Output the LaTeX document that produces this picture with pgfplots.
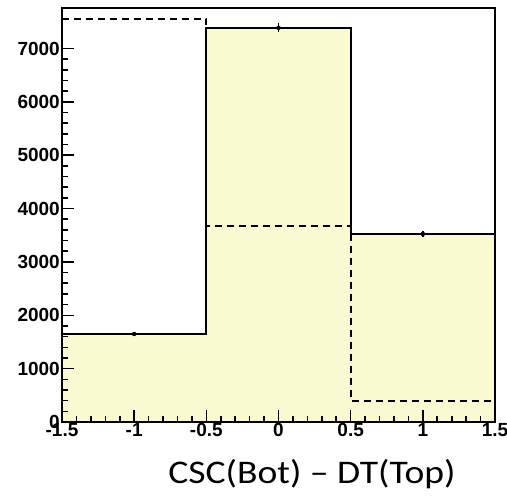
\documentclass[border=0pt]{standalone}
\usepackage{pgfplots}
\pgfplotsset{compat=1.18}
\usepackage{fontspec}
\setmainfont{Liberation Sans}
\newfontfamily\calibri{Carlito}
\definecolor{histfill}{RGB}{250,250,210}
\begin{document}
\begin{tikzpicture}
\begin{axis}[
  name=ax, scale only axis, width=433pt, height=414pt,
  xmin=-1.5, xmax=1.5, ymin=0, ymax=7760,
  axis on top, tick pos=left, tick align=inside,
  xtick={-1.5,-1,-0.5,0,0.5,1,1.5},
  xticklabels={-1.5,-1,-0.5,0,0.5,1,1.5},
  ytick={0,1000,...,7000},
  yticklabels={0,1000,2000,3000,4000,5000,6000,7000},
  minor x tick num=4, minor y tick num=4,
  major tick length=12pt, minor tick length=6pt,
  every tick/.style={black, line width=1.6pt},
  axis line style={line width=2pt},
  tick label style={font=\fontsize{19}{19}\selectfont\bfseries},
  yticklabel style={inner sep=2pt},
  xticklabel style={inner sep=1pt},
]
% filled histogram
\addplot[const plot, fill=histfill, draw=none] coordinates {
  (-1.5,1650) (-0.5,7390) (0.5,3525) (1.5,3525)} \closedcycle;
\addplot[const plot, black, line width=2pt] coordinates {
  (-1.5,1650) (-0.5,7390) (0.5,3525) (1.5,3525)};
% errors
\addplot[black, only marks, mark=none,
  error bars/.cd, y dir=both, y explicit, error mark=none,
  error bar style={line width=1.6pt}] coordinates {
  (-1,1650) +- (0,41) (0,7390) +- (0,86) (1,3525) +- (0,59)};
% dashed histogram
\addplot[const plot, black, line width=2pt, dash pattern=on 7pt off 5pt] coordinates {
  (-1.5,7560) (-0.5,3675) (0.5,400) (1.5,400)};
\end{axis}
\node[anchor=base, font=\calibri\fontsize{33}{33}\selectfont, xscale=1.14, transform shape]
  at ([shift={(250pt,-61pt)}]ax.south west) {CSC(Bot) – DT(Top)};
\pgfresetboundingbox
\path[use as bounding box] ([shift={(-62pt,-74pt)}]ax.south west)
  rectangle ([shift={(12pt,8pt)}]ax.north east);
\end{tikzpicture}
\end{document}
